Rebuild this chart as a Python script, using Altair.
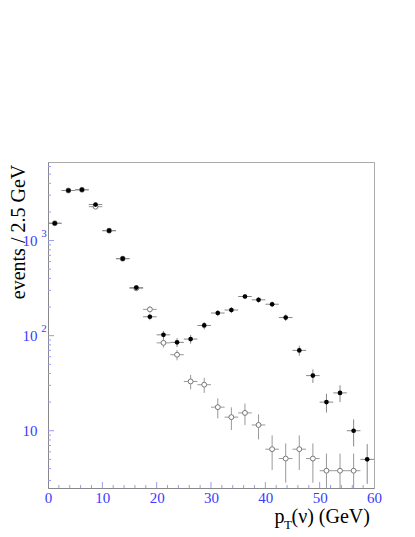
import altair as alt
import pandas as pd

# ---- data ----
pt_bins = [1.25, 3.75, 6.25, 8.75, 11.25, 13.75, 16.25, 18.75, 21.25, 23.75,
           26.25, 28.75, 31.25, 33.75, 36.25, 38.75, 41.25, 43.75, 46.25, 48.75,
           51.25, 53.75, 56.25, 58.75]
filled_counts = [1520, 3360, 3420, 2390, 1270, 645, 320, 158, 102, 85,
                 92, 128, 173, 186, 258, 238, 214, 155, 70, 38,
                 20, 25, 10, 5]
open_counts = [1520, 3360, 3420, 2270, 1270, 645, 315, 189, 84, 63,
               33, 30.5, 17.7, 13.9, 15.4, 11.5, 6.4, 5.1, 6.4, 5.1,
               3.8, 3.8, 3.8, None]
bin_half_width = 1.25

x_tick_labels = [0, 10, 20, 30, 40, 50, 60]
x_minor_ticks = [2, 4, 6, 8, 12, 14, 16, 18, 22, 24, 26, 28, 32, 34, 36, 38,
                 42, 44, 46, 48, 52, 54, 56, 58]
y_label_values = [10, 100, 1000]
y_label_exponents = ["", "2", "3"]
y_minor_ticks = [3, 4, 5, 6, 7, 8, 9, 20, 30, 40, 50, 60, 70, 80, 90,
                 200, 300, 400, 500, 600, 700, 800, 900, 2000, 3000, 4000, 5000, 6000]
y_title = ["events / 2.5 GeV"]
x_title_main = ["p"]
x_title_sub = ["T"]
x_title_rest = ["(ν) (GeV)"]

W, H = 326, 326
SERIF = "Liberation Serif"
BLUE = "#3a3aff"
TICK = "#9a9af0"

df = pd.DataFrame({"pt": pt_bins, "filled": filled_counts, "open": open_counts})

xscale = alt.Scale(domain=[0, 60], nice=False, zero=False)
yscale = alt.Scale(type="log", domain=[2.5, 6700], nice=False)

xaxis = alt.Axis(values=x_tick_labels, title=None, grid=False, ticks=False, tickSize=0,
                 labelFont=SERIF, labelFontSize=15, labelColor=BLUE, labelPadding=2,
                 labelFlush=False, domainColor="#888888")
yaxis = alt.Axis(values=y_label_values, labelExpr="'10'", title=None, grid=False,
                 ticks=False, tickSize=0, labelFont=SERIF, labelFontSize=15,
                 labelColor=BLUE, labelPadding=11, domainColor="#888888")


def X(field):
    return alt.X(field, scale=xscale, axis=xaxis, title=None)


def Y(field):
    return alt.Y(field, scale=yscale, axis=yaxis, title=None)


base = alt.Chart(df).transform_calculate(
    xl=f"datum.pt - {bin_half_width}", xh=f"datum.pt + {bin_half_width}"
)


def series(field, err_color, point_mark):
    b = base.transform_filter(f"datum.{field} != null").transform_calculate(
        lo=f"datum.{field} - sqrt(datum.{field})",
        hi=f"datum.{field} + sqrt(datum.{field})",
    )
    vbar = b.mark_rule(color=err_color, strokeWidth=1, clip=True).encode(
        x=X("pt:Q"), y=Y("lo:Q"), y2="hi:Q")
    hbar = b.mark_rule(color=err_color, strokeWidth=1, clip=True).encode(
        x=X("xl:Q"), x2="xh:Q", y=Y(f"{field}:Q"))
    pts = b.mark_point(clip=True, **point_mark).encode(
        x=X("pt:Q"), y=Y(f"{field}:Q"))
    return [vbar, hbar, pts]


open_layers = series("open", "#999999",
                     dict(shape="circle", filled=False, fill="white", fillOpacity=1,
                          stroke="#777777", strokeWidth=1, size=24, opacity=1))
filled_layers = series("filled", "#888888",
                       dict(shape="circle", filled=True, color="black", size=22, opacity=1))

# inside ticks
ymaj = alt.Chart(pd.DataFrame({"v": y_label_values})).mark_rule(color=TICK).encode(
    y=Y("v:Q"), x=alt.value(0), x2=alt.value(6))
ymin = alt.Chart(pd.DataFrame({"v": y_minor_ticks})).mark_rule(color=TICK).encode(
    y=Y("v:Q"), x=alt.value(0), x2=alt.value(3))
xmaj = alt.Chart(pd.DataFrame({"v": x_tick_labels[1:-1]})).mark_rule(color=TICK).encode(
    x=X("v:Q"), y=alt.value(H), y2=alt.value(H - 6))
xmin = alt.Chart(pd.DataFrame({"v": x_minor_ticks})).mark_rule(color=TICK).encode(
    x=X("v:Q"), y=alt.value(H), y2=alt.value(H - 3))

# superscript exponents of the y labels
exp_df = pd.DataFrame({"v": y_label_values, "e": y_label_exponents})
exps = alt.Chart(exp_df).mark_text(font=SERIF, fontSize=11, color=BLUE, align="center",
                                   baseline="middle", dy=-7).encode(
    y=Y("v:Q"), x=alt.value(-4), text="e:N")

# axis titles
ytitle = alt.Chart(pd.DataFrame({"t": y_title})).mark_text(
    font=SERIF, fontSize=20, color="black", angle=270, align="center",
    baseline="alphabetic").encode(x=alt.value(-23.5), y=alt.value(70), text="t:N")
xt1 = alt.Chart(pd.DataFrame({"t": x_title_main})).mark_text(
    font=SERIF, fontSize=20, color="black", align="left", baseline="alphabetic").encode(
    x=alt.value(226.5), y=alt.value(361), text="t:N")
xt2 = alt.Chart(pd.DataFrame({"t": x_title_sub})).mark_text(
    font=SERIF, fontSize=13, color="black", align="left", baseline="alphabetic").encode(
    x=alt.value(236), y=alt.value(367), text="t:N")
xt3 = alt.Chart(pd.DataFrame({"t": x_title_rest})).mark_text(
    font=SERIF, fontSize=20, color="black", align="left", baseline="alphabetic").encode(
    x=alt.value(243.5), y=alt.value(361), text="t:N")

chart = alt.layer(
    ymin, ymaj, xmin, xmaj,
    *open_layers, *filled_layers,
    exps, ytitle, xt1, xt2, xt3,
).properties(
    width=W, height=H,
    autosize=alt.AutoSizeParams(type="none"),
    padding={"left": 40, "top": 154, "right": 30, "bottom": 44},
).configure_view(stroke="#aaaaaa", strokeWidth=1)

chart.save("out.html", embed_options={"renderer": "svg", "actions": False})
